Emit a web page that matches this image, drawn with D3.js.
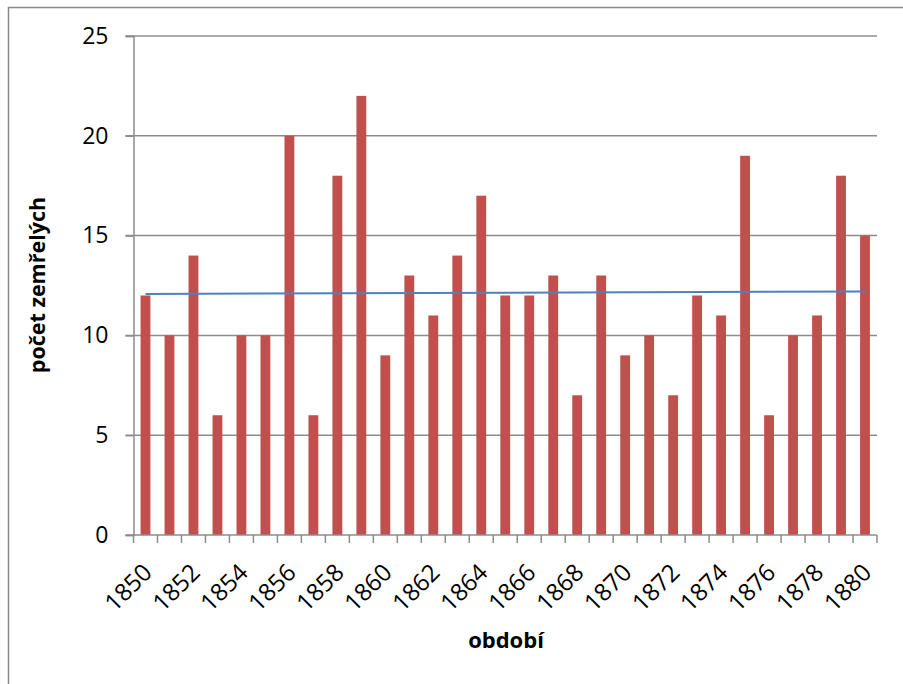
<!DOCTYPE html>
<html><head><meta charset="utf-8">
<script src="https://cdn.jsdelivr.net/npm/d3@7"></script>
<style>body{margin:0;background:#fff}svg{display:block}text{font-family:"Open Sans",sans-serif}</style>
</head><body>
<script>
const years = [1850,1851,1852,1853,1854,1855,1856,1857,1858,1859,1860,1861,1862,1863,1864,1865,1866,1867,1868,1869,1870,1871,1872,1873,1874,1875,1876,1877,1878,1879,1880];
const deaths = [12,10,14,6,10,10,20,6,18,22,9,13,11,14,17,12,12,13,7,13,9,10,7,12,11,19,6,10,11,18,15];
const trendEnds = [12.08, 12.2];
const yTicks = [0,5,10,15,20,25];
const tickLabels = years.filter((y,i)=>i%2===0);

const W=903,H=684;
const svg=d3.select("body").append("svg").attr("width",W).attr("height",H);
svg.append("rect").attr("width",W).attr("height",H).attr("fill","#fff");
// outer chart border (left/top visible)
svg.append("rect").attr("x",8.5).attr("y",7.5).attr("width",W+10).attr("height",H+10)
  .attr("fill","none").attr("stroke","#898989").attr("stroke-width",1.5);

const L=133.5,R=877,T=36,B=535;
const x=d3.scaleBand().domain(years).range([L,R]).paddingInner(0.59).paddingOuter(0.295);
const xb=d3.scaleBand().domain(years).range([L,R]);
const y=d3.scaleLinear().domain([0,25]).range([B,T]);

const grid="#8c8c8c";
// gridlines
svg.append("g").selectAll("line").data(yTicks.filter(d=>d>0)).join("line")
  .attr("x1",L-8).attr("x2",R).attr("y1",d=>y(d)).attr("y2",d=>y(d))
  .attr("stroke",grid).attr("stroke-width",1.5);
// y axis
const ya=svg.append("g").attr("transform",`translate(${L},0)`)
  .call(d3.axisLeft(y).tickValues(yTicks).tickSize(8).tickPadding(17));
ya.select(".domain").attr("stroke",grid).attr("stroke-width",1.5);
ya.selectAll(".tick line").attr("stroke",grid).attr("stroke-width",1.5);
ya.selectAll(".tick text").attr("font-size",23).attr("fill","#000").attr("font-family","Open Sans");

// bars
svg.append("g").selectAll("rect").data(years).join("rect")
  .attr("x",(d)=>x(d)).attr("width",x.bandwidth())
  .attr("y",(d,i)=>y(deaths[i])).attr("height",(d,i)=>B-y(deaths[i]))
  .attr("fill","#C0504D");

// x axis
const xa=svg.append("g").attr("transform",`translate(0,${B})`)
  .call(d3.axisBottom(xb).tickValues(tickLabels).tickSize(0).tickFormat(d3.format("d")));
xa.select(".domain").attr("stroke",grid).attr("stroke-width",1.5).attr("d",`M${L-8},0H${R}`);
xa.selectAll(".tick text").attr("font-size",24).attr("fill","#000")
  .attr("text-anchor","end").attr("dy",0).attr("y",0)
  .attr("transform","translate(8,39) rotate(-45)");
// x ticks at category boundaries
const bounds=years.map(d=>xb(d)).concat([R]);
svg.append("g").selectAll("line").data(bounds).join("line")
  .attr("x1",d=>d).attr("x2",d=>d).attr("y1",B).attr("y2",B+8)
  .attr("stroke",grid).attr("stroke-width",1.5);

// trend line
const cx=d=>x(d)+x.bandwidth()/2;
svg.append("line")
  .attr("x1",cx(years[0])).attr("x2",cx(years[years.length-1]))
  .attr("y1",y(trendEnds[0])).attr("y2",y(trendEnds[1]))
  .attr("stroke","#4F81BD").attr("stroke-width",2);

// titles
svg.append("text").attr("transform",`translate(45,285) rotate(-90)`).attr("text-anchor","middle")
  .attr("font-weight","bold").attr("font-size",21.5).text("počet zemřelých");
svg.append("text").attr("x",506).attr("y",648).attr("text-anchor","middle")
  .attr("font-weight","bold").attr("font-size",22).text("období");
</script>
</body></html>
